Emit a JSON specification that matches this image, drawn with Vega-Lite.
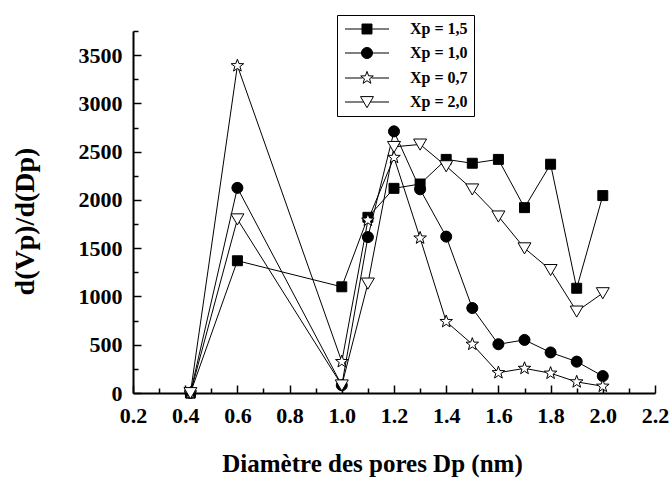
{
  "$schema": "https://vega.github.io/schema/vega-lite/v6.json",
  "width": 522,
  "height": 362,
  "autosize": {"type": "none"},
  "padding": {"left": 133, "top": 31, "right": 15, "bottom": 90},
  "config": {
    "font": "Liberation Serif",
    "view": {"stroke": null},
    "axis": {
      "labelFont": "Liberation Serif", "labelFontWeight": "bold", "labelFontSize": 22, "labelColor": "black",
      "titleFont": "Liberation Serif", "titleFontWeight": "bold", "titleColor": "black",
      "domainColor": "black", "domainWidth": 2, "tickColor": "black", "tickWidth": 1.5, "grid": false
    },
    "legend": {
      "labelFont": "Liberation Serif", "labelFontWeight": "bold", "labelFontSize": 16, "labelColor": "black"
    }
  },
  "data": {"values": [
    {"s": "Xp = 1,5", "dp": 0.42, "v": 0}, {"s": "Xp = 1,5", "dp": 0.6, "v": 1370}, {"s": "Xp = 1,5", "dp": 1.0, "v": 1100},
    {"s": "Xp = 1,5", "dp": 1.1, "v": 1820}, {"s": "Xp = 1,5", "dp": 1.2, "v": 2120}, {"s": "Xp = 1,5", "dp": 1.3, "v": 2165},
    {"s": "Xp = 1,5", "dp": 1.4, "v": 2420}, {"s": "Xp = 1,5", "dp": 1.5, "v": 2380}, {"s": "Xp = 1,5", "dp": 1.6, "v": 2420},
    {"s": "Xp = 1,5", "dp": 1.7, "v": 1920}, {"s": "Xp = 1,5", "dp": 1.8, "v": 2370}, {"s": "Xp = 1,5", "dp": 1.9, "v": 1085},
    {"s": "Xp = 1,5", "dp": 2.0, "v": 2045},
    {"s": "Xp = 1,0", "dp": 0.42, "v": 0}, {"s": "Xp = 1,0", "dp": 0.6, "v": 2125}, {"s": "Xp = 1,0", "dp": 1.0, "v": 80},
    {"s": "Xp = 1,0", "dp": 1.1, "v": 1615}, {"s": "Xp = 1,0", "dp": 1.2, "v": 2710}, {"s": "Xp = 1,0", "dp": 1.3, "v": 2110},
    {"s": "Xp = 1,0", "dp": 1.4, "v": 1620}, {"s": "Xp = 1,0", "dp": 1.5, "v": 880}, {"s": "Xp = 1,0", "dp": 1.6, "v": 505},
    {"s": "Xp = 1,0", "dp": 1.7, "v": 550}, {"s": "Xp = 1,0", "dp": 1.8, "v": 420}, {"s": "Xp = 1,0", "dp": 1.9, "v": 325},
    {"s": "Xp = 1,0", "dp": 2.0, "v": 175},
    {"s": "Xp = 0,7", "dp": 0.42, "v": 0}, {"s": "Xp = 0,7", "dp": 0.6, "v": 3390}, {"s": "Xp = 0,7", "dp": 1.0, "v": 325},
    {"s": "Xp = 0,7", "dp": 1.1, "v": 1790}, {"s": "Xp = 0,7", "dp": 1.2, "v": 2440}, {"s": "Xp = 0,7", "dp": 1.3, "v": 1605},
    {"s": "Xp = 0,7", "dp": 1.4, "v": 740}, {"s": "Xp = 0,7", "dp": 1.5, "v": 505}, {"s": "Xp = 0,7", "dp": 1.6, "v": 210},
    {"s": "Xp = 0,7", "dp": 1.7, "v": 255}, {"s": "Xp = 0,7", "dp": 1.8, "v": 205}, {"s": "Xp = 0,7", "dp": 1.9, "v": 115},
    {"s": "Xp = 0,7", "dp": 2.0, "v": 70},
    {"s": "Xp = 2,0", "dp": 0.42, "v": 0}, {"s": "Xp = 2,0", "dp": 0.6, "v": 1800}, {"s": "Xp = 2,0", "dp": 1.0, "v": 80},
    {"s": "Xp = 2,0", "dp": 1.1, "v": 1135}, {"s": "Xp = 2,0", "dp": 1.2, "v": 2550}, {"s": "Xp = 2,0", "dp": 1.3, "v": 2575},
    {"s": "Xp = 2,0", "dp": 1.4, "v": 2350}, {"s": "Xp = 2,0", "dp": 1.5, "v": 2110}, {"s": "Xp = 2,0", "dp": 1.6, "v": 1830},
    {"s": "Xp = 2,0", "dp": 1.7, "v": 1500}, {"s": "Xp = 2,0", "dp": 1.8, "v": 1275}, {"s": "Xp = 2,0", "dp": 1.9, "v": 845},
    {"s": "Xp = 2,0", "dp": 2.0, "v": 1035}
  ]},
  "layer": [
    {
      "mark": {"type": "line", "color": "black", "strokeWidth": 1},
      "encoding": {
        "x": {"field": "dp", "type": "quantitative",
          "scale": {"domain": [0.2, 2.2], "nice": false, "zero": false},
          "axis": {"orient": "bottom", "values": [0.2, 0.4, 0.6, 0.8, 1.0, 1.2, 1.4, 1.6, 1.8, 2.0, 2.2], "format": ".1f",
            "tickSize": -8, "labelPadding": 20, "labelFlush": false, "labelOverlap": false,
            "title": "Diamètre des pores Dp (nm)", "titleFontSize": 25, "titleX": 239, "titlePadding": 25}},
        "y": {"field": "v", "type": "quantitative",
          "scale": {"domain": [0, 3750], "nice": false},
          "axis": {"orient": "left", "values": [0, 500, 1000, 1500, 2000, 2500, 3000, 3500], "format": "d",
            "tickSize": -8, "labelPadding": 19, "labelFlush": false, "labelOverlap": false,
            "title": "d(Vp)/d(Dp)", "titleFontSize": 28, "titleAngle": 270, "titleX": -108, "titleY": 190, "titleAlign": "center", "titleBaseline": "middle"}},
        "detail": {"field": "s"}
      }
    },
    {
      "mark": {"type": "point", "filled": true, "stroke": "black", "strokeWidth": 1, "size": 144, "opacity": 1, "fillOpacity": 1},
      "encoding": {
        "x": {"field": "dp", "type": "quantitative",
          "axis": {"orient": "bottom", "values": [0.3, 0.5, 0.7, 0.9, 1.1, 1.3, 1.5, 1.7, 1.9, 2.1], "labels": false, "domain": false, "title": null, "tickSize": -5}},
        "y": {"field": "v", "type": "quantitative",
          "axis": {"orient": "left", "values": [250, 750, 1250, 1750, 2250, 2750, 3250, 3750], "labels": false, "domain": false, "title": null, "tickSize": -5}},
        "shape": {"field": "s", "type": "nominal",
          "scale": {"domain": ["Xp = 0,7", "Xp = 1,0", "Xp = 1,5", "Xp = 2,0"],
            "range": ["M0,-1.1L0.265,-0.364L1.046,-0.34L0.428,0.139L0.647,0.89L0,0.45L-0.647,0.89L-0.428,0.139L-1.046,-0.34L-0.265,-0.364Z",
                      "M0.92,0A0.92,0.92,0,1,1,-0.92,0A0.92,0.92,0,1,1,0.92,0Z",
                      "M-0.83,-0.83H0.83V0.83H-0.83Z",
                      "M-1.08,-0.9L1.08,-0.9L0,0.95Z"]},
          "legend": null},
        "fill": {"field": "s", "type": "nominal",
          "scale": {"domain": ["Xp = 1,5", "Xp = 1,0", "Xp = 0,7", "Xp = 2,0"], "range": ["black", "black", "white", "white"]},
          "legend": {"title": null, "orient": "none", "legendX": 204, "legendY": -16, "padding": 6, "strokeColor": "black", "fillColor": "white",
            "symbolSize": 144, "symbolOffset": 16, "labelOffset": 35, "rowPadding": 8, "symbolStrokeWidth": 1, "symbolStrokeColor": "black", "symbolOpacity": 1,
            "encode": {"symbols": {"update": {
              "stroke": {"value": "black"}, "strokeWidth": {"value": 1},
              "shape": {"signal": "datum.value === 'Xp = 1,5' ? 'M-3.67,0H3.67M-0.83,-0.83H0.83V0.83H-0.83Z' : datum.value === 'Xp = 1,0' ? 'M-3.67,0H3.67M0.92,0A0.92,0.92,0,1,1,-0.92,0A0.92,0.92,0,1,1,0.92,0Z' : datum.value === 'Xp = 0,7' ? 'M-3.67,0H-0.75M0.75,0H3.67M0,-1.1L0.265,-0.364L1.046,-0.34L0.428,0.139L0.647,0.89L0,0.45L-0.647,0.89L-0.428,0.139L-1.046,-0.34L-0.265,-0.364Z' : 'M-3.67,0H-0.55M0.55,0H3.67M-1.08,-0.9L1.08,-0.9L0,0.95Z'"}}}}}}
      }
    }
  ],
  "resolve": {"axis": {"x": "independent", "y": "independent"}}
}
